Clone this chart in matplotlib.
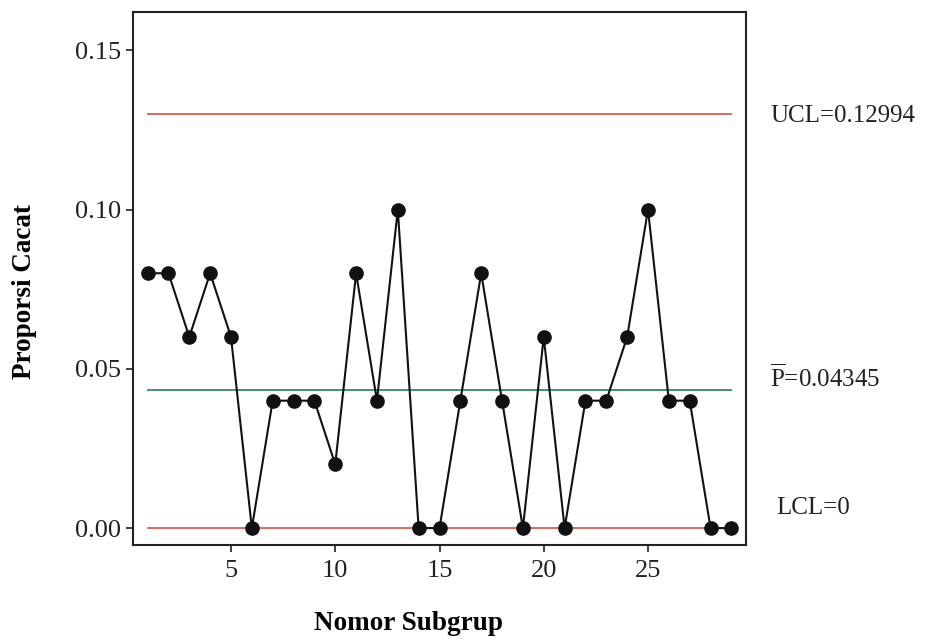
import matplotlib
matplotlib.use("Agg")
import matplotlib.pyplot as plt
import numpy as np

plt.rcParams['font.family'] = ['Liberation Serif', 'DejaVu Serif']
plt.rcParams['mathtext.fontset'] = 'custom'
plt.rcParams['mathtext.rm'] = 'Liberation Serif'

subgroups = list(range(1, 30))
proportions = [0.08, 0.08, 0.06, 0.08, 0.06, 0.00, 0.04, 0.04, 0.04, 0.02,
               0.08, 0.04, 0.10, 0.00, 0.00, 0.04, 0.08, 0.04, 0.00, 0.06,
               0.00, 0.04, 0.04, 0.06, 0.10, 0.04, 0.04, 0.00, 0.00]
ucl = 0.12994
pbar = 0.04345
lcl = 0.0
xticks = [5, 10, 15, 20, 25]
yticks = [0.00, 0.05, 0.10, 0.15]

fig = plt.figure(figsize=(9.25, 6.4), dpi=100)
ax = fig.add_axes([133/925, 1-545/640, (746-133)/925, (545-12)/640])

red = '#e05a50'
green = '#2e8b62'
xs = [subgroups[0], subgroups[-1]]
ax.plot(xs, [ucl, ucl], color=red, lw=1.3, zorder=1)
ax.plot(xs, [lcl, lcl], color=red, lw=1.3, zorder=1)
ax.plot(xs, [pbar, pbar], color=green, lw=1.3, zorder=1)
ax.plot(subgroups, proportions, color='#111111', lw=1.5, marker='o',
        markersize=9.5, markerfacecolor='#111111', markeredgecolor='#111111', zorder=3)

ax.set_xlim(0.3, 29.7)
ax.set_ylim(-0.0053, 0.162)
ax.set_xticks(xticks)
ax.set_yticks(yticks)
ax.set_yticklabels([f"{v:.2f}" for v in yticks])
ax.tick_params(direction='out', length=5, width=1.2, labelsize=19, colors='#222222')
ax.tick_params(axis='x', pad=6)
for s in ax.spines.values():
    s.set_linewidth(1.5)
    s.set_color('#222222')

ax.set_xlabel('Nomor Subgrup', fontsize=19.5, fontweight='bold')
ax.set_ylabel('Proporsi Cacat', fontsize=19.5, fontweight='bold')
ax.xaxis.set_label_coords(0.450, -0.124)
ax.yaxis.set_label_coords(-0.157, 0.475)

fig.text(770/925, 1-116/640, f'UCL={ucl:.5f}', fontsize=18, va='center', ha='left', color='#222222')
fig.text(770/925, 1-378/640, r'$\overline{\mathrm{P}}$' + f'={pbar:.5f}', fontsize=18, va='center', ha='left', color='#222222')
fig.text(776/925, 1-508/640, 'LCL=0', fontsize=18, va='center', ha='left', color='#222222')

fig.savefig('out.png', dpi=100)
